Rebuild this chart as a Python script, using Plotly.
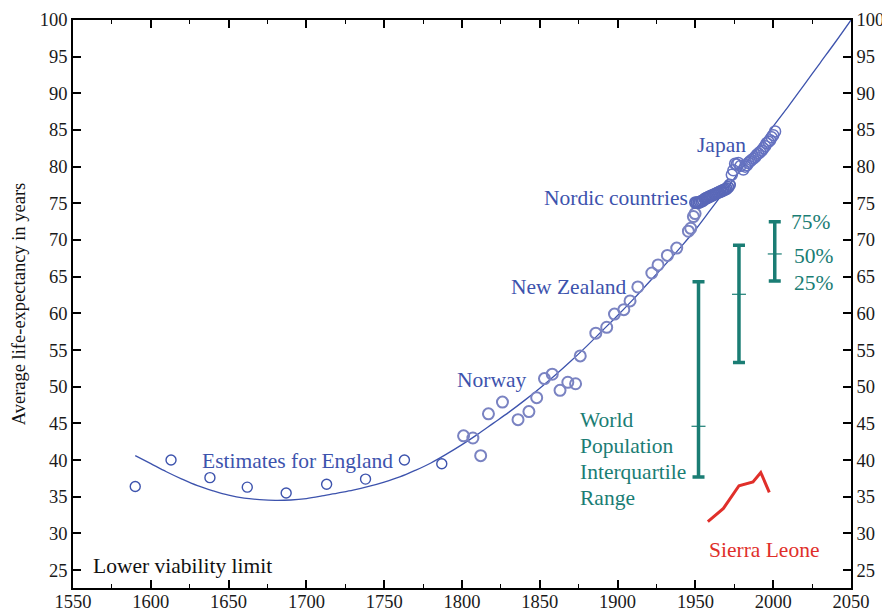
import plotly.graph_objects as go

# ---- data ----
england_years = [1590, 1613, 1638, 1662, 1687, 1713, 1738, 1763, 1787]
england_le = [36.4, 40.0, 37.6, 36.3, 35.5, 36.7, 37.4, 40.0, 39.5]

record_years = [1801, 1807, 1812, 1817, 1826, 1836, 1843, 1848, 1853, 1858,
                1863, 1868, 1873, 1876, 1886, 1893, 1898, 1904, 1908, 1913,
                1922, 1926, 1932, 1938, 1945.5, 1947, 1948.7, 1949.8]
record_le = [43.3, 43.0, 40.6, 46.3, 47.9, 45.5, 46.6, 48.5, 51.1, 51.7,
             49.5, 50.6, 50.4, 54.2, 57.3, 58.1, 59.9, 60.5, 61.7, 63.6,
             65.5, 66.6, 67.9, 68.9, 71.2, 71.6, 73.2, 73.6]

nordic_years = [1950, 1951, 1952, 1953, 1954, 1955, 1956, 1957, 1958, 1959,
                1960, 1961, 1962, 1963, 1964, 1965, 1966, 1967, 1968, 1969,
                1970, 1971, 1972]
nordic_le = [75.1, 75.1, 75.1, 75.2, 75.3, 75.4, 75.6, 75.7, 75.8, 75.9,
             76.0, 76.1, 76.2, 76.3, 76.4, 76.5, 76.6, 76.7, 76.8, 76.9,
             77.0, 77.2, 77.5]

japan_years = [1973.4, 1974.4, 1975.5, 1976.5, 1977.6, 1979, 1980.8, 1982,
               1983, 1984, 1985, 1986, 1987.3, 1988.4, 1989.4, 1990.5, 1991.6,
               1992.7, 1993.7, 1994.8, 1995.8, 1997, 1998, 1999, 2000, 2001.2]
japan_le = [78.9, 79.5, 80.4, 80.3, 80.5, 80.1, 79.6, 80.0, 80.2, 80.5,
            80.7, 80.9, 81.1, 81.3, 81.6, 81.8, 82.0, 82.2, 82.5, 82.8,
            83.2, 83.4, 83.6, 84.0, 84.3, 84.8]

trend_years = [1590, 1600, 1610, 1620, 1630, 1640, 1650, 1660, 1670, 1680,
               1690, 1700, 1710, 1720, 1730, 1740, 1750, 1760, 1770, 1780,
               1790, 1800, 1810, 1820, 1830, 1840, 1850, 1860, 1870, 1880,
               1890, 1900, 1910, 1920, 1930, 1940, 1950, 1960, 1970, 1980,
               1990, 2000, 2010, 2020, 2030, 2040, 2050]
trend_le = [40.6, 39.5, 38.4, 37.4, 36.5, 35.8, 35.2, 34.8, 34.6, 34.5,
            34.55, 34.75, 35.1, 35.5, 35.9, 36.4, 37.0, 37.7, 38.6, 39.6,
            40.8, 42.1, 43.5, 45.0, 46.5, 48.1, 49.8, 51.6, 53.5, 55.5,
            57.6, 59.7, 61.9, 64.2, 66.5, 68.9, 71.4, 74.2, 77.0, 79.8,
            82.6, 85.5, 88.3, 91.2, 94.1, 97.0, 100.0]

iqr_years = [1952, 1978, 2001]
iqr_low = [37.7, 53.3, 64.4]
iqr_med = [44.6, 62.6, 68.1]
iqr_high = [64.3, 69.3, 72.5]

sl_years = [1958, 1968, 1978, 1987, 1992, 1997.5]
sl_le = [31.6, 33.4, 36.5, 37.0, 38.3, 35.6]

x_ticks = list(range(1550, 2051, 50))
y_ticks = list(range(25, 101, 5))

BLUE = "#3d53ad"
BLUE_LIGHT = "#7a83c2"
TEAL = "#1a7d74"
RED = "#e02f2a"
FONT = "Liberation Serif"

fig = go.Figure()

fig.add_trace(go.Scatter(x=trend_years, y=trend_le, mode="lines",
                         line=dict(color=BLUE, width=1.3, shape="spline"),
                         hoverinfo="skip"))
fig.add_trace(go.Scatter(x=england_years, y=england_le, mode="markers",
                         marker=dict(symbol="circle-open", size=10,
                                     color=BLUE, line=dict(width=1.4))))
fig.add_trace(go.Scatter(x=record_years, y=record_le, mode="markers",
                         marker=dict(symbol="circle-open", size=11,
                                     color=BLUE_LIGHT, line=dict(width=2))))
fig.add_trace(go.Scatter(x=nordic_years, y=nordic_le, mode="markers",
                         marker=dict(symbol="circle-open", size=11,
                                     color="#5a68b8", line=dict(width=1.8))))
fig.add_trace(go.Scatter(x=japan_years, y=japan_le, mode="markers",
                         marker=dict(symbol="circle-open", size=11,
                                     color="#6572c0", line=dict(width=1.5))))

# interquartile bars
fig.add_trace(go.Scatter(
    x=iqr_years, y=iqr_med, mode="markers",
    marker=dict(symbol="line-ew", size=10, color=TEAL,
                line=dict(color=TEAL, width=1.2)),
    error_y=dict(type="data", symmetric=False,
                 array=[h - m for h, m in zip(iqr_high, iqr_med)],
                 arrayminus=[m - l for m, l in zip(iqr_med, iqr_low)],
                 color=TEAL, thickness=3.5, width=6)))

fig.add_trace(go.Scatter(x=sl_years, y=sl_le, mode="lines",
                         line=dict(color=RED, width=3)))

# invisible trace to carry the right-hand axis
fig.add_trace(go.Scatter(x=[2050], y=[100], yaxis="y2", mode="markers",
                         marker=dict(opacity=0), hoverinfo="skip"))

ann = []
def add_text(t, x, y, color, xanchor="center", size=21.5):
    ann.append(dict(text=t, x=x, y=y, xref="x", yref="y", showarrow=False,
                    xanchor=xanchor, yanchor="middle",
                    font=dict(family=FONT, size=size, color=color)))

add_text("Estimates for England", 1694, 39.9, BLUE)
add_text("Lower viability limit", 1561.5, 25.5, "#111111", xanchor="left")
add_text("Norway", 1819, 50.9, BLUE)
add_text("New Zealand", 1868.6, 63.6, BLUE)
add_text("Nordic countries", 1898.7, 75.7, BLUE)
add_text("Japan", 1966.8, 83.0, BLUE)
for line, yy in zip(["World", "Population", "Interquartile", "Range"],
                    [45.5, 41.9, 38.4, 34.8]):
    add_text(line, 1874.5, yy, TEAL, xanchor="left")
add_text("75%", 2010.3, 72.45, TEAL, xanchor="left")
add_text("50%", 2012.2, 67.8, TEAL, xanchor="left")
add_text("25%", 2012.2, 64.1, TEAL, xanchor="left")
add_text("Sierra Leone", 1994.1, 27.7, RED)

ann.append(dict(text="Average life-expectancy in years", textangle=-90,
                x=-0.069, y=0.5, xref="paper", yref="paper",
                showarrow=False, xanchor="center", yanchor="middle",
                font=dict(family=FONT, size=18.5, color="#111111")))

axis_common = dict(showline=True, linecolor="black", linewidth=1.5,
                   ticks="inside", tickcolor="black", tickwidth=1.5,
                   ticklen=8, showgrid=False, zeroline=False,
                   automargin=False,
                   tickfont=dict(family=FONT, size=18.5, color="#1a1a1a"))

# the page body adds an 8px offset, so the figure is sized to fit the window
fig.update_layout(
    width=882, height=604,
    margin=dict(l=64.5, r=39, t=12, b=24),
    paper_bgcolor="white", plot_bgcolor="white",
    showlegend=False,
    annotations=ann,
    xaxis=dict(range=[1550, 2050], tickvals=x_ticks, mirror="ticks",
               ticklabelstandoff=-4,
               minor=dict(dtick=25, tick0=1550, ticks="inside", ticklen=4,
                          tickcolor="black", tickwidth=1.2),
               **axis_common),
    yaxis=dict(range=[22.55, 100], tickvals=y_ticks, **axis_common),
    yaxis2=dict(range=[22.55, 100], tickvals=y_ticks, overlaying="y",
                side="right", **axis_common),
)

fig.write_html("out.html")
